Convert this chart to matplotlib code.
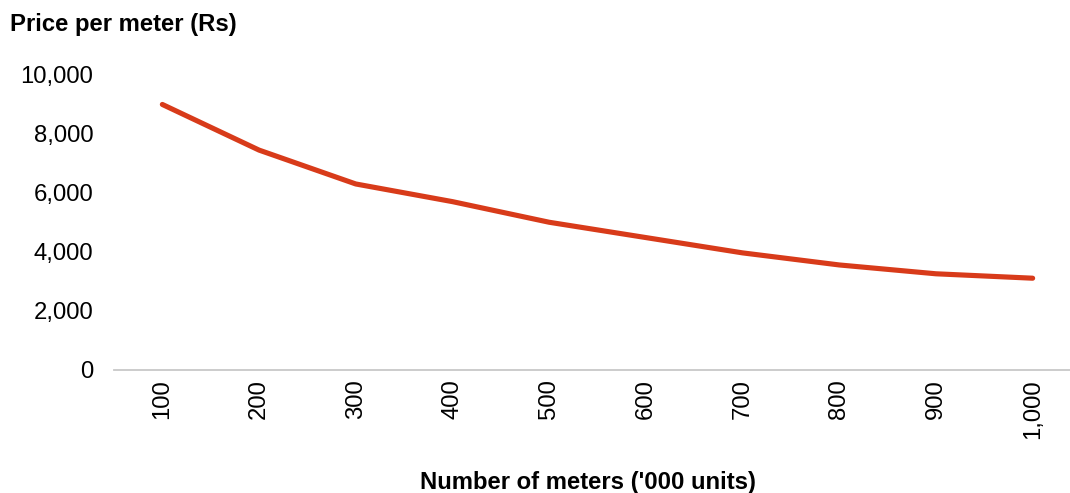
import matplotlib
matplotlib.use("Agg")
import matplotlib.pyplot as plt
from matplotlib.ticker import FuncFormatter

meters_k = [100, 200, 300, 400, 500, 600, 700, 800, 900, 1000]
price_rs = [9000, 7450, 6300, 5700, 5000, 4480, 3960, 3550, 3250, 3100]
tick_labels = [f"{v:,}" for v in meters_k]

plt.rcParams["font.family"] = ["Liberation Sans", "DejaVu Sans"]

fig = plt.figure(figsize=(10.70, 4.93), dpi=100)
ax = fig.add_axes([114 / 1070, 1 - 369.5 / 493, (1070 - 114) / 1070, (369.5 - 75) / 493])

pos = list(range(1, len(meters_k) + 1))
ax.plot(pos, price_rs, color="#D83B1A", linewidth=3.7, solid_capstyle="round")

ax.set_xlim(0.5, 0.5 + (1070 - 114) / 96.7)
ax.set_ylim(0, 10000)
ax.set_yticks([0, 2000, 4000, 6000, 8000, 10000])
ax.yaxis.set_major_formatter(FuncFormatter(lambda v, p: f"{int(v):,}"))
ax.set_xticks(pos)
ax.set_xticklabels(tick_labels, rotation=90, va="top", ha="center")

for s in ["top", "right", "left"]:
    ax.spines[s].set_visible(False)
ax.spines["bottom"].set_color("#C8C8C8")
ax.spines["bottom"].set_linewidth(1.3)
ax.tick_params(axis="both", length=0, labelsize=17.2, colors="#000000")
ax.tick_params(axis="y", pad=15)
ax.tick_params(axis="x", pad=7)

fig.text(10 / 1070, 1 - 25 / 493, "Price per meter (Rs)", fontsize=17.2, fontweight="bold",
         ha="left", va="center")
fig.text(588 / 1070, 1 - 482 / 493, "Number of meters ('000 units)", fontsize=17.2,
         fontweight="bold", ha="center", va="center")

fig.savefig("out.png", dpi=100)
